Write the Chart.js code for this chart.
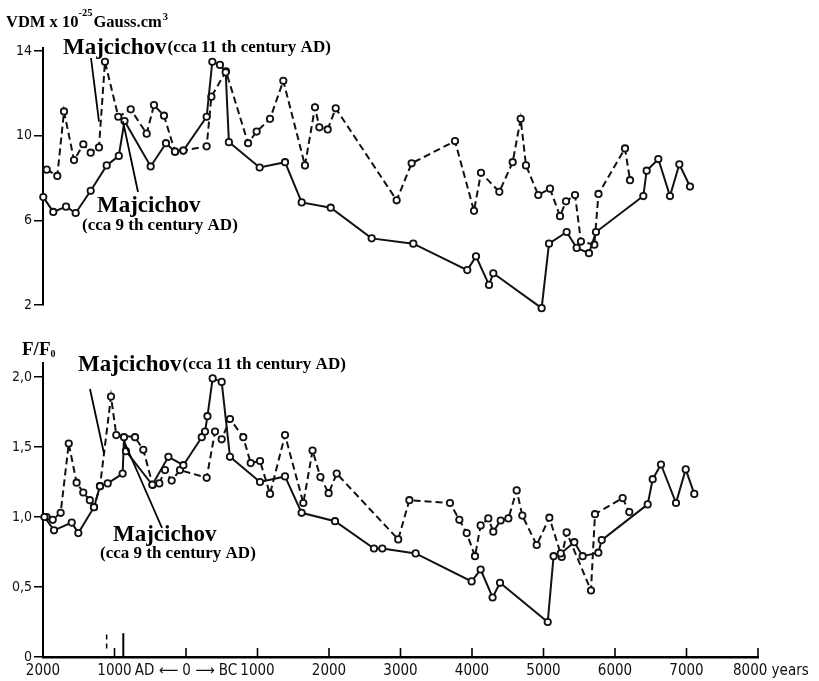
<!DOCTYPE html>
<html>
<head>
  <meta charset="UTF-8">
  <title>VDM - F/F0</title>
  <style>
    body {
      margin: 0;
      background: #fff;
      overflow: hidden;
    }
    .wrap {
      position: relative;
      width: 819px;
      height: 681px;
    }
    canvas {
      position: absolute;
      left: 0;
      top: 0;
    }
  </style>
</head>
<body>
  <div class="wrap">
    <canvas id="vdm" width="819" height="681"></canvas>
    <canvas id="ff0" width="819" height="681"></canvas>
  </div>

  <script src="https://cdn.jsdelivr.net/npm/chart.js"></script>
  <script>
    // years: negative = AD, positive = BC
    var xTicks = [-2000, -1000, 0, 1000, 2000, 3000, 4000, 5000, 6000, 7000, 8000];
    var vdmTicks = [2, 6, 10, 14];
    var ffTicks = [0, 0.5, 1, 1.5, 2];

    // VDM, solid curve
    var vdmSolidX = [-1996, -1856, -1678, -1543, -1333, -1109, -940, -860, -494, -280, -154, -37, 289, 368, 475, 555, 600,
      1030, 1385, 1618, 2024, 2597, 3179, 3934, 4056, 4238, 4298, 4974, 5077, 5324, 5464, 5636, 5734,
      6396, 6443, 6606, 6769, 6900, 7049];
    var vdmSolidY = [7.1, 6.4, 6.65, 6.35, 7.4, 8.6, 9.05, 10.7, 8.55, 9.65, 9.25, 9.3, 10.9, 13.5, 13.35, 13.0, 9.7,
      8.5, 8.75, 6.85, 6.6, 5.15, 4.9, 3.65, 4.3, 2.95, 3.5, 1.85, 4.9, 5.45, 4.7, 4.45, 5.45,
      7.15, 8.35, 8.9, 7.15, 8.65, 7.6];

    // VDM, dashed curve
    var vdmDashX = [-1948, -1800, -1706, -1566, -1436, -1333, -1217, -1133, -947, -773, -550, -448, -308, -154, -37, 289, 355, 559,
      868, 988, 1175, 1361, 1664, 1804, 1865, 1982, 2094, 2946, 3156, 3762, 4028, 4126, 4382, 4569, 4681, 4755,
      4927, 5091, 5231, 5315, 5441, 5524, 5711, 5769, 6140, 6210];
    var vdmDashY = [8.4, 8.1, 11.15, 8.85, 9.6, 9.2, 9.45, 13.5, 10.9, 11.25, 10.1, 11.45, 10.95, 9.25, 9.3, 9.5, 11.85, 13.05,
      9.65, 10.2, 10.8, 12.6, 8.6, 11.35, 10.4, 10.3, 11.3, 6.95, 8.7, 9.75, 6.45, 8.25, 7.35, 8.75, 10.8, 8.6,
      7.2, 7.5, 6.2, 6.9, 7.2, 5.0, 4.85, 7.25, 9.4, 7.9];

    // F/F0, solid curve
    var ffSolidX = [-1980, -1846, -1598, -1506, -1287, -1203, -1095, -886, -867, -840, -471, -246, -37, 220, 266, 300, 373, 499, 615,
      1035, 1385, 1617, 2084, 2629, 2746, 3212, 3995, 4121, 4288, 4392, 5059, 5141, 5241, 5431, 5548, 5767, 5814,
      6457, 6527, 6643, 6853, 6989, 7109];
    var ffSolidY = [1.0, 0.905, 0.96, 0.885, 1.07, 1.22, 1.24, 1.31, 1.57, 1.47, 1.23, 1.43, 1.37, 1.57, 1.61, 1.72, 1.99, 1.965, 1.43,
      1.25, 1.29, 1.03, 0.97, 0.775, 0.775, 0.74, 0.54, 0.625, 0.425, 0.53, 0.25, 0.72, 0.74, 0.82, 0.72, 0.745, 0.835,
      1.09, 1.27, 1.375, 1.1, 1.34, 1.165];

    // F/F0, dashed curve
    var ffDashX = [-1950, -1864, -1753, -1640, -1530, -1437, -1345, -1287, -1203, -1049, -975, -713, -597, -466, -373, -294, -200, -84,
      289, 406, 499, 615, 801, 905, 1035, 1175, 1385, 1641, 1770, 1880, 1995, 2108, 2968, 3124, 3692, 3823, 3926,
      4042, 4121, 4228, 4298, 4401, 4509, 4625, 4704, 4905, 5082, 5255, 5324, 5664, 5720, 6107, 6200];
    var ffDashY = [1.0, 0.98, 1.03, 1.525, 1.245, 1.175, 1.12, 1.07, 1.22, 1.86, 1.585, 1.57, 1.48, 1.23, 1.24, 1.335, 1.26, 1.335,
      1.28, 1.61, 1.555, 1.7, 1.57, 1.385, 1.4, 1.165, 1.585, 1.1, 1.475, 1.285, 1.17, 1.31, 0.84, 1.12, 1.1, 0.98, 0.885,
      0.72, 0.94, 0.99, 0.895, 0.975, 0.99, 1.19, 1.01, 0.8, 0.995, 0.715, 0.89, 0.475, 1.02, 1.135, 1.035];

    var serif = '"Liberation Serif", "Times New Roman", serif';
    var sans = '"DejaVu Sans Condensed", "DejaVu Sans", sans-serif';

    function pts(xs, ys) {
      return xs.map(function (x, i) { return { x: x, y: ys[i] }; });
    }

    function serie(xs, ys, dashed) {
      return {
        data: pts(xs, ys),
        borderColor: '#111',
        borderWidth: 2,
        borderDash: dashed ? [7, 4] : [],
        pointRadius: 3.2,
        pointBorderWidth: 1.8,
        pointBorderColor: '#111',
        pointBackgroundColor: '#fff',
        tension: 0,
        clip: false
      };
    }

    function txt(ctx, s, x, y, size) {
      ctx.font = 'bold ' + size + 'px ' + serif;
      ctx.fillText(s, x, y);
      return x + ctx.measureText(s).width;
    }

    function leader(chart, x0, y0, vx, vy) {
      var ctx = chart.ctx;
      ctx.beginPath();
      ctx.moveTo(x0, y0);
      ctx.lineTo(chart.scales.x.getPixelForValue(vx), chart.scales.y.getPixelForValue(vy));
      ctx.stroke();
    }

    function yAxis(min, max, ticks, fmt) {
      return {
        min: min,
        max: max,
        afterFit: function (s) { s.width = 43; },
        afterBuildTicks: function (s) { s.ticks = ticks.map(function (v) { return { value: v }; }); },
        border: { display: true, color: '#000', width: 2 },
        grid: { drawOnChartArea: false, tickLength: 9, color: '#000', lineWidth: 1.5 },
        ticks: { color: '#111', padding: 2, font: { family: sans, size: 14 }, callback: fmt }
      };
    }

    var vdmNotes = {
      id: 'vdmNotes',
      afterDraw: function (chart) {
        var ctx = chart.ctx;
        ctx.save();
        ctx.fillStyle = '#000';
        ctx.textBaseline = 'alphabetic';
        var x = txt(ctx, 'VDM x 10', 6, 27, 16.5);
        x = txt(ctx, '-25', x, 16, 10.5);
        x = txt(ctx, 'Gauss.cm', x + 1, 27, 16.5);
        txt(ctx, '3', x + 1, 20, 10.5);
        x = txt(ctx, 'Majcichov', 63, 54, 23);
        txt(ctx, '(cca 11 th century AD)', x + 1, 52, 17);
        txt(ctx, 'Majcichov', 97, 212, 23);
        txt(ctx, '(cca 9 th century AD)', 82, 230, 17);
        ctx.strokeStyle = '#000';
        ctx.lineWidth = 1.8;
        leader(chart, 91, 58, -1217, 10.67);
        leader(chart, 138, 192, -881, 10.68);
        ctx.restore();
      }
    };

    var ffNotes = {
      id: 'ffNotes',
      afterDraw: function (chart) {
        var ctx = chart.ctx;
        var sx = chart.scales.x, sy = chart.scales.y;
        ctx.save();
        ctx.fillStyle = '#000';
        var x = txt(ctx, 'F/F', 22, 355, 19);
        txt(ctx, '0', x, 357, 10);
        x = txt(ctx, 'Majcichov', 78, 371, 23);
        txt(ctx, '(cca 11 th century AD)', x + 1, 369, 17);
        txt(ctx, 'Majcichov', 113, 541, 23);
        txt(ctx, '(cca 9 th century AD)', 100, 558, 17);
        ctx.strokeStyle = '#000';
        ctx.lineWidth = 1.8;
        leader(chart, 90, 389, -1147, 1.454);
        leader(chart, 162, 528, -853, 1.525);

        // inward ticks on the time axis
        var base = sy.getPixelForValue(0);
        ctx.lineWidth = 1.6;
        xTicks.slice(1).forEach(function (v) {
          var px = sx.getPixelForValue(v);
          ctx.beginPath();
          ctx.moveTo(px, base);
          ctx.lineTo(px, base - 9);
          ctx.stroke();
        });
        // Majcichov ages on the axis
        ctx.lineWidth = 2;
        ctx.beginPath();
        ctx.moveTo(sx.getPixelForValue(-877), base);
        ctx.lineTo(sx.getPixelForValue(-877), sy.getPixelForValue(0.17));
        ctx.stroke();
        ctx.lineWidth = 1.5;
        ctx.setLineDash([5, 4]);
        ctx.beginPath();
        ctx.moveTo(sx.getPixelForValue(-1110), sy.getPixelForValue(0.06));
        ctx.lineTo(sx.getPixelForValue(-1110), sy.getPixelForValue(0.17));
        ctx.stroke();
        ctx.setLineDash([]);

        ctx.textAlign = 'left';
        ctx.textBaseline = 'top';
        ctx.fillStyle = '#111';
        ctx.font = '15px ' + sans;
        ctx.fillText('8000 years', sx.getPixelForValue(8000) - 25, base + 7);
        ctx.restore();
      }
    };

    new Chart(document.getElementById('vdm'), {
      type: 'line',
      data: { datasets: [serie(vdmSolidX, vdmSolidY, false), serie(vdmDashX, vdmDashY, true)] },
      options: {
        responsive: false,
        animation: false,
        layout: { padding: { left: 0, right: 61, top: 48, bottom: 376 } },
        plugins: { legend: { display: false }, tooltip: { enabled: false } },
        scales: {
          x: { type: 'linear', min: -2000, max: 8000, display: false },
          y: yAxis(2, 14.15, vdmTicks, function (v) { return String(v); })
        }
      },
      plugins: [vdmNotes]
    });

    new Chart(document.getElementById('ff0'), {
      type: 'line',
      data: { datasets: [serie(ffSolidX, ffSolidY, false), serie(ffDashX, ffDashY, true)] },
      options: {
        responsive: false,
        animation: false,
        layout: { padding: { left: 0, right: 61, top: 363, bottom: 0 } },
        plugins: { legend: { display: false }, tooltip: { enabled: false } },
        scales: {
          x: {
            type: 'linear',
            min: -2000,
            max: 8000,
            afterFit: function (s) { s.height = 24; },
            afterBuildTicks: function (s) { s.ticks = xTicks.map(function (v) { return { value: v }; }); },
            border: { display: true, color: '#000', width: 2.5 },
            grid: { drawOnChartArea: false, drawTicks: false },
            ticks: {
              color: '#111',
              padding: 5,
              autoSkip: false,
              maxRotation: 0,
              font: { family: sans, size: 15 },
              callback: function (v) {
                if (v === 0) return 'AD \u27F5 0 \u27F6 BC';
                if (v === 8000) return '';
                return String(Math.abs(v));
              }
            }
          },
          y: yAxis(0, 2.1, ffTicks, function (v) { return v === 0 ? '0' : v.toFixed(1).replace('.', ','); })
        }
      },
      plugins: [ffNotes]
    });
  </script>
</body>
</html>
